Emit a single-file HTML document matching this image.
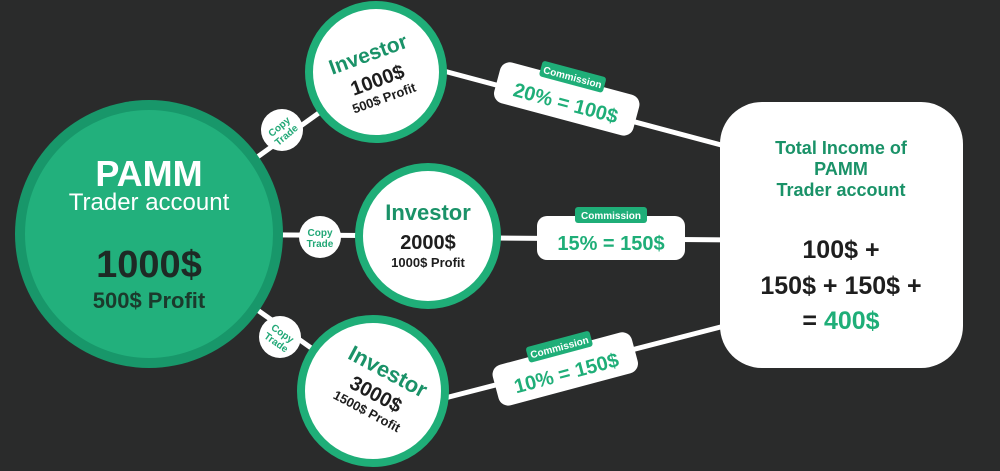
<!DOCTYPE html>
<html><head><meta charset="utf-8"><style>
html,body{margin:0;padding:0;background:#2a2b2b;}
svg{display:block;font-family:"Liberation Sans",sans-serif;font-weight:bold;}
</style></head><body>
<svg width="1000" height="471" viewBox="0 0 1000 471" xmlns="http://www.w3.org/2000/svg">
<rect width="1000" height="471" fill="#2a2b2b"/>
<g stroke="#ffffff" stroke-width="5" fill="none">
<line x1="150" y1="234" x2="376" y2="72"/>
<line x1="150" y1="234" x2="428" y2="236"/>
<line x1="150" y1="234" x2="372" y2="391"/>
<line x1="440" y1="70" x2="740" y2="150"/>
<line x1="495" y1="238" x2="740" y2="240"/>
<line x1="445" y1="398" x2="740" y2="322"/>
</g>
<circle cx="149" cy="234" r="134" fill="#18976a"/>
<circle cx="149" cy="234" r="124" fill="#22b07c"/>
<text x="149" y="186" font-size="36" fill="#ffffff" text-anchor="middle">PAMM</text>
<text x="149" y="210" font-size="24" font-weight="normal" fill="#ffffff" text-anchor="middle">Trader account</text>
<text x="149" y="277" font-size="38" fill="#1e2a25" text-anchor="middle">1000$</text>
<text x="149" y="308" font-size="22" fill="#1b3a2c" text-anchor="middle">500$ Profit</text>
<g fill="#ffffff">
<circle cx="282" cy="130" r="21"/><circle cx="320" cy="237" r="21"/><circle cx="280" cy="337" r="21"/>
</g>
<g font-size="10" fill="#22a877" text-anchor="middle">
<g transform="translate(282,130) rotate(-40)"><text y="-1">Copy</text><text y="10">Trade</text></g>
<g transform="translate(320,237)"><text y="-1">Copy</text><text y="10">Trade</text></g>
<g transform="translate(280,337) rotate(35)"><text y="-1">Copy</text><text y="10">Trade</text></g>
</g>
<g fill="#ffffff" stroke="#1fae78" stroke-width="8">
<circle cx="376" cy="72" r="67"/><circle cx="428" cy="236" r="69"/><circle cx="373" cy="391" r="72"/>
</g>
<g text-anchor="middle">
<g transform="translate(376,76) rotate(-20)">
<text y="-16" font-size="21" fill="#1a9268">Investor</text>
<text y="11" font-size="20" fill="#1e1e1e">1000$</text>
<text y="28" font-size="13" fill="#1e1e1e">500$ Profit</text></g>
<g transform="translate(428,236)">
<text y="-16" font-size="22" fill="#1a9268">Investor</text>
<text y="13" font-size="20" fill="#1e1e1e">2000$</text>
<text y="31" font-size="13" fill="#1e1e1e">1000$ Profit</text></g>
<g transform="translate(376,394) rotate(28)">
<text y="-18" font-size="22" fill="#1a9268">Investor</text>
<text y="7" font-size="20" fill="#1e1e1e">3000$</text>
<text y="24" font-size="13" fill="#1e1e1e">1500$ Profit</text></g>
</g>
<g text-anchor="middle">
<g transform="translate(567,98) rotate(15)">
<rect x="-72" y="-20" width="144" height="42" rx="10" fill="#fff"/>
<rect x="-33" y="-30" width="66" height="16" rx="3" fill="#1fae78"/>
<text y="-18" font-size="10" fill="#fff">Commission</text>
<text y="12" font-size="20" fill="#1fae78">20% = 100$</text></g>
<g transform="translate(611,238)">
<rect x="-74" y="-22" width="148" height="44" rx="10" fill="#fff"/>
<rect x="-36" y="-31" width="72" height="16" rx="3" fill="#1fae78"/>
<text y="-19" font-size="10" fill="#fff">Commission</text>
<text y="12" font-size="20" fill="#1fae78">15% = 150$</text></g>
<g transform="translate(565,368) rotate(-15)">
<rect x="-72" y="-20" width="144" height="42" rx="10" fill="#fff"/>
<rect x="-33" y="-30" width="66" height="16" rx="3" fill="#1fae78"/>
<text y="-18" font-size="10" fill="#fff">Commission</text>
<text y="12" font-size="20" fill="#1fae78">10% = 150$</text></g>
</g>
<rect x="720" y="102" width="243" height="266" rx="42" fill="#ffffff"/>
<g text-anchor="middle">
<text x="841" y="154" font-size="18" fill="#1a9268">Total Income of</text>
<text x="841" y="175" font-size="18" fill="#1a9268">PAMM</text>
<text x="841" y="196" font-size="18" fill="#1a9268">Trader account</text>
<text x="841" y="258" font-size="25" fill="#1e1e1e">100$ +</text>
<text x="841" y="294" font-size="25" fill="#1e1e1e">150$ + 150$ +</text>
<text x="841" y="329" font-size="25" fill="#1e1e1e">= <tspan fill="#1fae78">400$</tspan></text>
</g>
</svg>
</body></html>
